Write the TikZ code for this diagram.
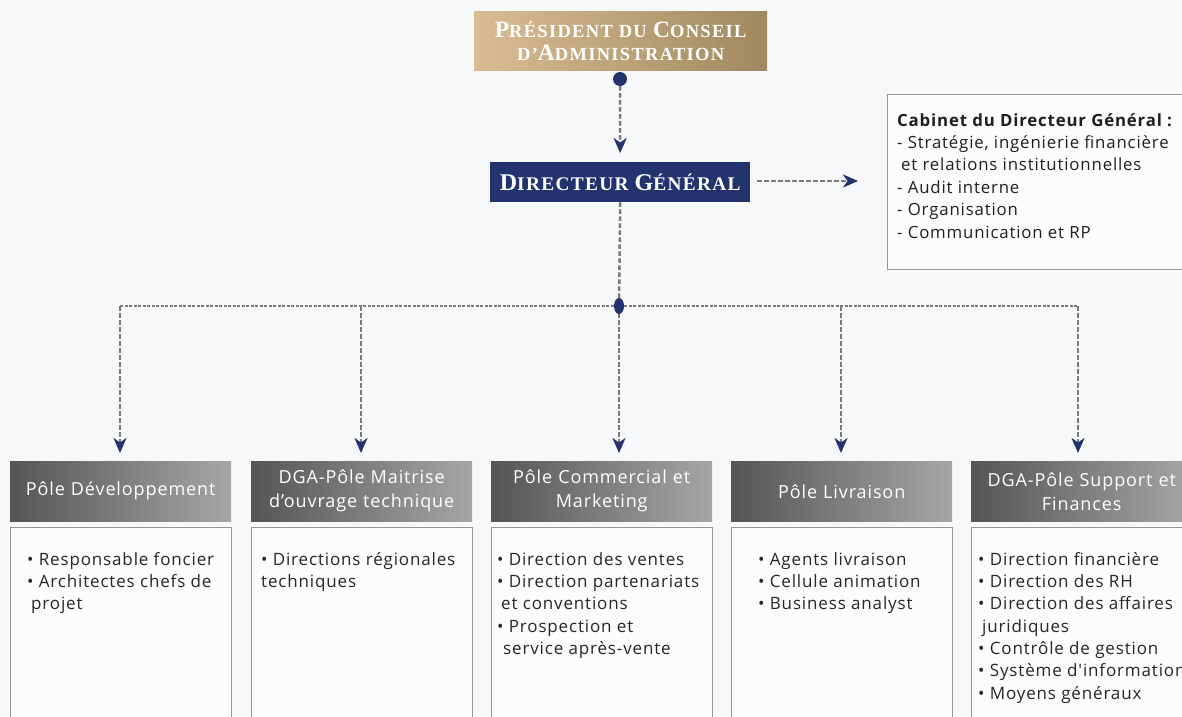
\documentclass[tikz,border=0pt]{standalone}
\usepackage{fontspec}
\setmainfont{Liberation Serif}
\newfontfamily\din[LetterSpace=5]{Open Sans}
\newfontfamily\capsf[LetterSpace=7]{Liberation Serif}
\usetikzlibrary{arrows.meta}
\definecolor{navy}{HTML}{22336E}
\definecolor{dashgrey}{HTML}{7A7A7A}
\definecolor{bgc}{HTML}{F7F8FA}
\definecolor{goldL}{HTML}{D9BC93}
\definecolor{goldR}{HTML}{9F8960}
\definecolor{greyL}{HTML}{555555}
\definecolor{greyR}{HTML}{A6A6A6}
\definecolor{boxline}{HTML}{969696}
\newcommand\bigc[1]{{\fontsize{23.5}{24}\selectfont #1}}
\newcommand\smc[1]{{\fontsize{18.5}{24}\selectfont #1}}
\newcommand\dbigc[1]{{\fontsize{24}{26}\selectfont #1}}
\newcommand\dsmc[1]{{\fontsize{19.3}{26}\selectfont #1}}
\tikzset{
  x=1pt, y=-1pt,
  dline/.style={draw=dashgrey, line width=2.5pt, dash pattern=on 4.5pt off 2.5pt},
  conn/.style={dline,
    -{Stealth[color=navy, fill=navy, length=15pt, width=13pt, inset=4.5pt]}},
  hline/.style={draw=dashgrey, line width=2.5pt, dash pattern=on 3pt off 1.5pt},
  headbox/.style={rectangle, inner sep=0pt, minimum width=221pt, minimum height=60pt,
    left color=greyL, right color=greyR, text=white, align=center, text width=210pt,
    font=\din\fontsize{18}{24}\selectfont},
  bodybox/.style={rectangle, draw=boxline, line width=1pt, fill=white, fill opacity=0.65,
    inner sep=0pt, minimum width=221pt, minimum height=200pt},
  bodytext/.style={inner sep=0pt, align=left, anchor=north west,
    font=\din\fontsize{17}{22.3}\selectfont, text=black!85},
}
\begin{document}
\begin{tikzpicture}
\fill[bgc] (0,0) rectangle (1182,716);
\useasboundingbox (0,0) rectangle (1182,716);

% top boxes
\node[rectangle, inner sep=0pt, minimum width=293pt, minimum height=59pt,
  left color=goldL, right color=goldR, text=white, align=center, anchor=north west,
  font=\capsf\bfseries\fontsize{20}{23}\selectfont] (pres) at (474,11)
  {\bigc{P}\smc{RÉSIDENT DU} \bigc{C}\smc{ONSEIL}\\ \smc{D’}\bigc{A}\smc{DMINISTRATION}};
\coordinate (pdot) at (620,79);
\fill[navy] (pdot) circle (7pt);

\node[rectangle, inner sep=0pt, minimum width=260pt, minimum height=40pt, fill=navy,
  text=white, anchor=north west, font=\capsf\bfseries\fontsize{19.3}{26}\selectfont] (dg) at (490,162)
  {\dbigc{D}\dsmc{IRECTEUR} \dbigc{G}\dsmc{ÉNÉRAL}};

\node[rectangle, draw=boxline, line width=1pt, fill=white, fill opacity=0.6,
  minimum width=303pt, minimum height=175pt, anchor=north west, inner sep=0pt] (cab) at (887,94) {};
\node[inner sep=0pt, align=left, anchor=north west, font=\din\fontsize{16.8}{22.4}\selectfont,
  text=black!88] (cabtxt) at (897,113)
  {\textbf{Cabinet du Directeur Général :}\\
   - Stratégie, ingénierie financière\\
   \hspace*{4pt}et relations institutionnelles\\
   - Audit interne\\
   - Organisation\\
   - Communication et RP};

\draw[conn, shorten <=7pt, shorten >=9pt] (pdot) -- (dg.north);
\coordinate (dgr) at (757,181);
\coordinate (cabarr) at (858,181);
\draw[conn] (dgr) -- (cabarr);

% hub
\coordinate (hub) at (619,306);
\coordinate (c1) at (120,306);
\coordinate (c2) at (361,306);
\coordinate (c3) at (619,306);
\coordinate (c4) at (841,306);
\coordinate (c5) at (1078,306);

% header boxes
\node[headbox, anchor=north west] (h1) at (10,461) {Pôle Développement};
\node[headbox, anchor=north west] (h2) at (251,461) {DGA-Pôle Maitrise\\d’ouvrage technique};
\node[headbox, anchor=north west] (h3) at (491,461) {Pôle Commercial et\\Marketing};
\node[headbox, anchor=north west] (h4) at (731,461) {Pôle Livraison};
\node[headbox, anchor=north west] (h5) at (971,461) {DGA-Pôle Support et\\Finances};

% body boxes
\node[bodybox, anchor=north west] (b1) at (10,527) {};
\node[bodybox, anchor=north west] (b2) at (251,527) {};
\node[bodybox, anchor=north west] (b3) at (491,527) {};
\node[bodybox, anchor=north west] (b4) at (731,527) {};
\node[bodybox, anchor=north west] (b5) at (971,527) {};

\node[bodytext] (t1) at (27,552) {• Responsable foncier\\• Architectes chefs de\\\hspace*{4pt}projet};
\node[bodytext] (t2) at (261,552) {• Directions régionales\\techniques};
\node[bodytext] (t3) at (497,552) {• Direction des ventes\\• Direction partenariats\\\hspace*{4pt}et conventions\\• Prospection et\\\hspace*{6pt}service après-vente};
\node[bodytext] (t4) at (758,552) {• Agents livraison\\• Cellule animation\\• Business analyst};
\node[bodytext] (t5) at (978,552) {• Direction financière\\• Direction des RH\\• Direction des affaires\\\hspace*{4pt}juridiques\\• Contrôle de gestion\\• Système d'information\\• Moyens généraux};

% connectors
\draw[dline] (dg.south) -- (hub);
\draw[hline] (c1) -- (c5);
\draw[conn, shorten >=8pt] (c1) -- (h1.north -| c1);
\draw[conn, shorten >=8pt] (c2) -- (h2.north -| c2);
\draw[conn, shorten >=8pt] (c3) -- (h3.north -| c3);
\draw[conn, shorten >=8pt] (c4) -- (h4.north -| c4);
\draw[conn, shorten >=8pt] (c5) -- (h5.north -| c5);
\fill[navy] (hub) ellipse (5pt and 8pt);
\end{tikzpicture}
\end{document}
